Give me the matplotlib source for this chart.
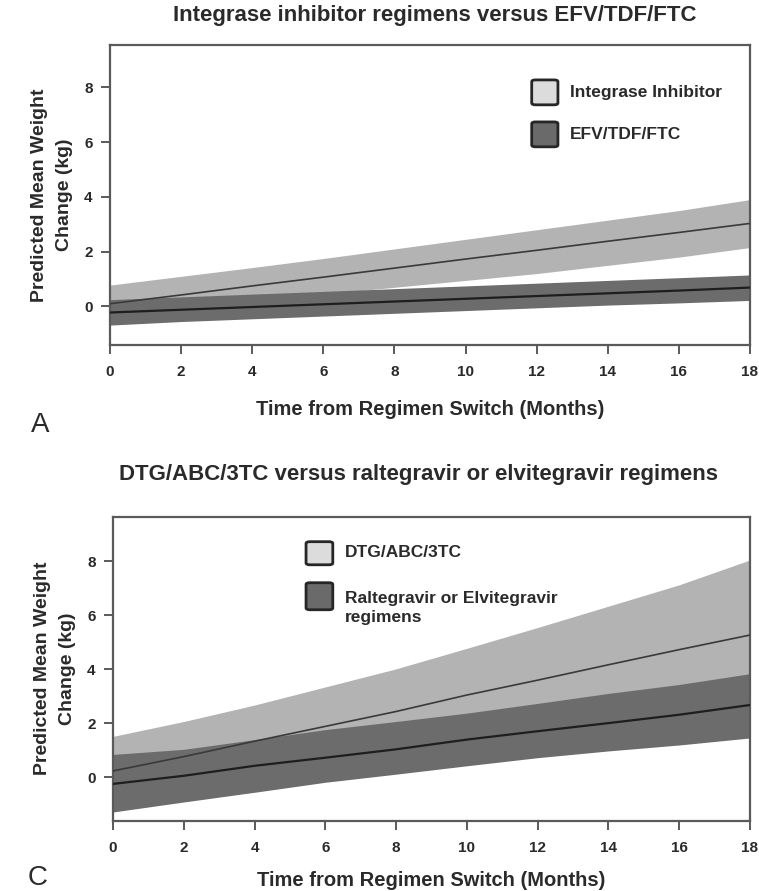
import matplotlib
matplotlib.use('Agg')

import matplotlib.pyplot as plt
from matplotlib.patches import FancyBboxPatch

plt.rcParams['font.family'] = ['Liberation Sans', 'DejaVu Sans']
plt.rcParams['font.weight'] = 'bold'

# ---------- DATA ----------
months = [0, 2, 4, 6, 8, 10, 12, 14, 16, 18]

# panel A
ii_mean = [0.10, 0.42, 0.75, 1.07, 1.40, 1.73, 2.05, 2.38, 2.70, 3.03]
ii_upper = [0.78, 1.10, 1.42, 1.75, 2.10, 2.45, 2.80, 3.15, 3.50, 3.90]
ii_lower = [-0.40, -0.10, 0.20, 0.45, 0.70, 0.95, 1.20, 1.50, 1.80, 2.15]

efv_mean = [-0.22, -0.12, -0.02, 0.08, 0.18, 0.28, 0.38, 0.48, 0.58, 0.69]
efv_upper = [0.25, 0.35, 0.45, 0.55, 0.65, 0.75, 0.85, 0.95, 1.05, 1.15]
efv_lower = [-0.68, -0.55, -0.45, -0.35, -0.25, -0.15, -0.05, 0.05, 0.13, 0.22]

# panel C
dtg_mean = [0.24, 0.77, 1.34, 1.89, 2.44, 3.05, 3.60, 4.17, 4.73, 5.27]
dtg_upper = [1.52, 2.07, 2.68, 3.35, 4.02, 4.78, 5.55, 6.34, 7.13, 8.05]
dtg_lower = [-1.00, -0.40, 0.10, 0.60, 1.00, 1.40, 1.80, 2.10, 2.40, 2.60]

ral_mean = [-0.24, 0.06, 0.43, 0.73, 1.04, 1.40, 1.71, 2.01, 2.32, 2.68]
ral_upper = [0.85, 1.04, 1.40, 1.77, 2.07, 2.38, 2.74, 3.11, 3.44, 3.84]
ral_lower = [-1.28, -0.91, -0.55, -0.18, 0.12, 0.43, 0.73, 0.98, 1.20, 1.46]

x_ticks = [0, 2, 4, 6, 8, 10, 12, 14, 16, 18]
y_ticks = [0, 2, 4, 6, 8]

# ---------- STYLE ----------
LIGHT_BAND = '#b3b3b3'
DARK_BAND = '#6c6c6c'
LIGHT_SWATCH = '#dcdcdc'
DARK_SWATCH = '#6a6a6a'
AXIS_GRAY = '#5a5a5a'
TEXT_GRAY = '#2a2a2a'


def style_axes(ax, ylim, xlabel_pad):
    ax.set_xlim(0, 18)
    ax.set_ylim(*ylim)
    ax.set_xticks(x_ticks)
    ax.set_yticks(y_ticks)
    for spine in ax.spines.values():
        spine.set_color(AXIS_GRAY)
        spine.set_linewidth(1.6)
    ax.tick_params(direction='out', length=6.5, width=1.4, color=AXIS_GRAY,
                   labelsize=11, labelcolor=TEXT_GRAY)
    ax.tick_params(axis='x', pad=8)
    ax.tick_params(axis='y', pad=6)
    for lab in ax.get_xticklabels() + ax.get_yticklabels():
        lab.set_fontweight('bold')
    ax.set_xlabel("Time from Regimen Switch (Months)", fontsize=14.5,
                  fontweight='bold', color=TEXT_GRAY, labelpad=xlabel_pad)
    ax.set_ylabel("Predicted Mean Weight\nChange (kg)", fontsize=14,
                  fontweight='bold', color=TEXT_GRAY, labelpad=8,
                  linespacing=1.6)


def swatch(ax, x0, y0, w, h, color):
    box = FancyBboxPatch((x0, y0), w, h, boxstyle="round,pad=0,rounding_size=0.006",
                         transform=ax.transAxes, facecolor=color,
                         edgecolor='#262626', linewidth=2.0, zorder=5)
    ax.add_patch(box)


fig = plt.figure(figsize=(7.59, 8.91), dpi=100)

# ---------- PANEL A ----------
ax1 = fig.add_axes([0.145, 0.613, 0.843, 0.3367])
ax1.fill_between(months, ii_lower, ii_upper, color=LIGHT_BAND, linewidth=0, zorder=1)
ax1.fill_between(months, efv_lower, efv_upper, color=DARK_BAND, linewidth=0, zorder=2)
ax1.plot(months, ii_mean, color='#3a3a3a', linewidth=1.2, zorder=3)
ax1.plot(months, efv_mean, color='#1e1e1e', linewidth=1.6, zorder=3)
style_axes(ax1, (-1.4, 9.55), 15)

swatch(ax1, 0.659, 0.80, 0.041, 0.083, LIGHT_SWATCH)
swatch(ax1, 0.659, 0.66, 0.041, 0.083, DARK_SWATCH)
ax1.text(0.719, 0.842, "Integrase Inhibitor", transform=ax1.transAxes,
         fontsize=12.5, fontweight='bold', color=TEXT_GRAY, va='center')
ax1.text(0.719, 0.702, "EFV/TDF/FTC", transform=ax1.transAxes,
         fontsize=12.5, fontweight='bold', color=TEXT_GRAY, va='center')

fig.text(0.573, 0.983, "Integrase inhibitor regimens versus EFV/TDF/FTC",
         ha='center', va='center', fontsize=16, fontweight='bold', color=TEXT_GRAY)
fig.text(0.053, 0.523, "A", fontsize=20, fontweight='normal', color=TEXT_GRAY,
         ha='center', va='center')

# ---------- PANEL C ----------
ax2 = fig.add_axes([0.149, 0.079, 0.839, 0.341])
ax2.fill_between(months, dtg_lower, dtg_upper, color=LIGHT_BAND, linewidth=0, zorder=1)
ax2.fill_between(months, ral_lower, ral_upper, color=DARK_BAND, linewidth=0, zorder=2)
ax2.plot(months, dtg_mean, color='#3a3a3a', linewidth=1.2, zorder=3)
ax2.plot(months, ral_mean, color='#1e1e1e', linewidth=1.6, zorder=3)
style_axes(ax2, (-1.6, 9.65), 11.5)

swatch(ax2, 0.303, 0.842, 0.042, 0.076, LIGHT_SWATCH)
swatch(ax2, 0.303, 0.694, 0.042, 0.089, DARK_SWATCH)
ax2.text(0.364, 0.882, "DTG/ABC/3TC", transform=ax2.transAxes,
         fontsize=12.5, fontweight='bold', color=TEXT_GRAY, va='center')
ax2.text(0.364, 0.757, "Raltegravir or Elvitegravir\nregimens", transform=ax2.transAxes,
         fontsize=12.5, fontweight='bold', color=TEXT_GRAY, va='top',
         linespacing=1.4)

fig.text(0.551, 0.467, "DTG/ABC/3TC versus raltegravir or elvitegravir regimens",
         ha='center', va='center', fontsize=16, fontweight='bold', color=TEXT_GRAY)
fig.text(0.05, 0.015, "C", fontsize=20, fontweight='normal', color=TEXT_GRAY,
         ha='center', va='center')

fig.savefig("out.png", dpi=100)
